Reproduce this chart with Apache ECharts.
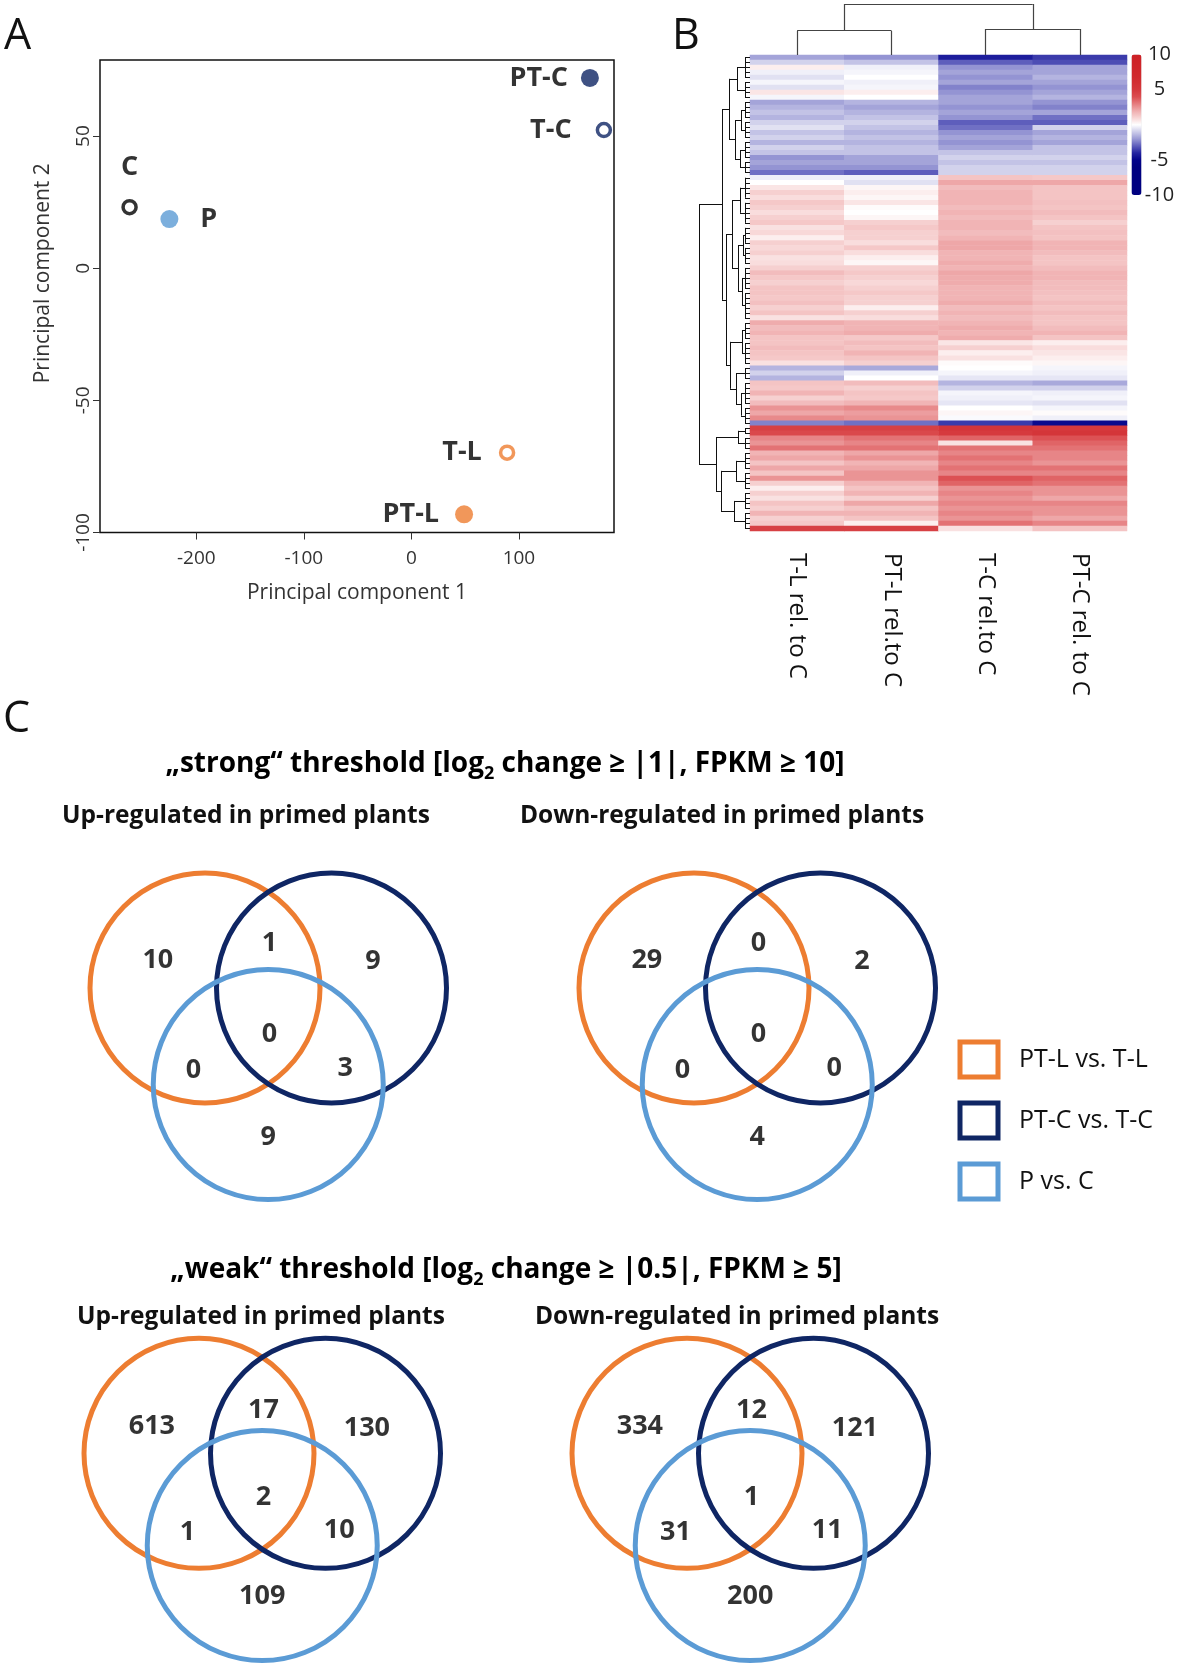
<!DOCTYPE html>
<html><head><meta charset="utf-8">
<script src="https://cdn.jsdelivr.net/npm/echarts@6/dist/echarts.min.js"></script>
<style>html,body{margin:0;padding:0;background:#fff}#c{width:1181px;height:1673px}</style>
</head><body><div id="c"></div>
<script>
// ---------- Panel A : PCA ----------
const pcaSamples = ['PT-C', 'T-C', 'C', 'P', 'T-L', 'PT-L'];
const pc1 = [166, 179, -262, -225, 89, 49];
const pc2 = [72, 52.3, 23.1, 18.6, -69.8, -93.1];
const pc1Ticks = [-200, -100, 0, 100];
const pc2Ticks = [-100, -50, 0, 50];

// ---------- Panel B : heatmap (log2 change rel. to C) ----------
const heatColumns = ['T-L rel. to C', 'PT-L rel.to C', 'T-C rel.to C', 'PT-C rel. to C'];
const tlRelC = [-1.8,-0.9,0.4,-0.3,-0.6,-0.2,-0.6,0.6,-0.2,-1.8,
 -1.5,-1.2,-1.5,-0.9,-0.6,-1.2,-0.9,-1.5,-0.9,-1.2,
 -2.1,-1.8,-2.1,-2.7,-0.3,0,0.6,1.1,0.8,1.3,
 1.1,0.8,1.1,1.3,0.7,0.9,0.4,1.1,0.9,1.1,
 0.7,0.8,1.1,1.6,1.3,1.1,1.4,1.4,1.3,1.5,
 1.1,1.4,0.7,2,1.6,1.8,1.4,1.4,1.6,1.4,
 1.3,0.7,-1.5,-0.9,-1.5,1.4,1.3,1.8,1.1,1.6,
 2.5,2.1,2.7,-2.4,4.6,4.2,2.8,2.5,3.2,1.8,
 2.1,1.4,2.1,1.4,2.5,1.1,0.4,1.1,0.7,1.4,
 1.1,1.8,1.1,1.3,4.6];
const ptlRelC = [-2.1,-1.2,-0.3,-0.2,0,-0.3,-0.2,0.4,0,-1.5,
 -1.8,-1.5,-1.2,-0.9,-1.2,-1.5,-1.2,-1.5,-1.2,-1.2,
 -1.8,-1.8,-2.1,-3,-0.3,-0.6,0.2,0.4,0.2,0.6,
 0.1,0,0.2,1.1,1.3,1.1,1.1,0.8,1.3,0.8,
 0.4,0.2,1.1,1.3,1.1,0.9,1.1,1.3,1.1,1.1,
 0.4,1.1,0.8,1.8,1.8,2,1.3,1.6,1.4,1.8,
 1.4,1.1,-1.7,-0.3,0,1.6,1.1,1.4,1.3,1.8,
 2.7,2.3,2.5,-2.7,4.6,4.2,3.2,2.8,3.2,2.1,
 2.5,1.8,2.1,2.5,2.5,1.8,1.4,1.8,1.1,2.1,
 1.4,1.8,1.4,0.4,4.6];
const tcRelC = [-4.2,-3,-2.1,-1.8,-2.1,-1.8,-2.4,-2.1,-1.8,-1.8,
 -2.1,-1.8,-2.1,-3,-2.7,-2.1,-1.8,-2.1,-1.8,-1.2,
 -0.9,-1.2,-0.9,-0.9,1.4,2.1,1.6,1.8,1.8,1.8,
 1.6,1.8,1.6,1.8,1.8,1.6,1.8,2.1,2.1,1.8,
 1.8,2,1.8,2.1,2,2,1.8,1.8,1.8,2,
 1.6,1.8,1.6,1.8,2,1.8,2,0.6,1.1,0.4,
 0.7,0.1,0,-0.2,-0.5,-1.5,-0.9,-0.2,-0.3,-0.5,
 0,0.2,-0.1,-3.6,5.3,4.9,3.5,0.7,3.2,2.8,
 3.2,2.8,3.2,2.8,3.9,3.5,2.5,2.8,2.5,2.8,
 2.5,2.8,2.5,3.2,0.7];
const ptcRelC = [-3.6,-3.3,-1.8,-1.8,-1.5,-1.8,-2.1,-1.8,-1.5,-2.1,
 -2.4,-1.8,-2.7,-3,-0.9,-1.8,-1.5,-1.8,-1.2,-1.2,
 -0.9,-1.2,-0.9,-0.9,1.3,2.1,1.4,1.4,1.4,1.5,
 1.4,1.6,1.4,1.1,1.4,1.5,1.4,1.8,1.8,1.6,
 1.4,1.4,1.6,1.8,1.8,1.6,1.6,1.5,1.4,1.6,
 1.4,1.6,1.4,1.4,1.6,1.8,1.4,0.4,0.8,0.6,
 0.4,0.2,-0.2,-0.3,-0.5,-1.7,-0.9,-0.3,-0.2,-0.6,
 -0.2,0.1,-0.3,-4.8,4.9,5.3,3.9,3.5,3.2,2.8,
 2.8,2.5,3.2,2.8,3.5,3.2,2.5,2.5,2.1,2.8,
 2.5,2.5,2.1,2.8,1.4];
const colorbarTicks = [10, 5, -5, -10];
// column dendrogram: [height, left, right]; leaves are column indices
const colTree = [51, [24.3, 0, 1], [26, 2, 3]];
// row dendrogram: [height, left, right]; leaves are [firstRow, lastRow]
const rowTree = [51,
  [28,
    [21, [13, [0, 4], [5, 8]], [15, [9, [9, 12], [13, 16]], [10, [17, 20], [21, 23]]]],
    [24, [18, [10, [24, 28], [29, 33]], [12, [7, [34, 37], [38, 41]], [8, [42, 46], [47, 52]]]],
         [20, [8, [53, 56], [57, 61]], [14, [62, 64], [9, [65, 69], [70, 73]]]]]
  ],
  [34, [12, [74, 75], [76, 78]], [29, [14, [79, 82], [83, 86]], [16, [87, 90], [91, 94]]]]
];

// ---------- Panel C : Venn counts ----------
// region order: only A, only B, only C, A&B, A&C, B&C, A&B&C
const vennSets = ['PT-L vs. T-L', 'PT-C vs. T-C', 'P vs. C'];
const strongUp = [10, 9, 9, 1, 0, 3, 0];
const strongDown = [29, 2, 4, 0, 0, 0, 0];
const weakUp = [613, 130, 109, 17, 1, 10, 2];
const weakDown = [334, 121, 200, 12, 31, 11, 1];

// ---------- styling / layout ----------
const FONT = "'Open Sans', sans-serif";
const ORANGE = '#ED7D31', NAVY = '#0F2664', LBLUE = '#5B9BD5';
const pcaStyle = {
  'PT-C': {c: NAVY, ring: false, pos: 'left', d: 13},
  'T-C': {c: NAVY, ring: true, pos: 'left', d: 24},
  'C': {c: '#000', ring: true, pos: 'top', d: 18},
  'P': {c: LBLUE, ring: false, pos: 'right', d: 22},
  'T-L': {c: ORANGE, ring: true, pos: 'left', d: 17},
  'PT-L': {c: ORANGE, ring: false, pos: 'left', d: 16}
};
const vennColors = [ORANGE, NAVY, LBLUE];
const circleLayout = [[0, 0], [1.1, 0], [0.55, 0.84]];
const regionLayout = [[-0.41, -0.245], [1.46, -0.23], [0.55, 1.30], [0.56, -0.39], [-0.1, 0.72], [1.22, 0.70], [0.56, 0.40]];
const vennGrids = [
  {left: 78.5, top: 861.5, counts: strongUp},
  {left: 567.5, top: 861.5, counts: strongDown},
  {left: 72.5, top: 1332.5, counts: weakUp},
  {left: 560.5, top: 1332.5, counts: weakDown}
];
const heatColors = ['#000080','#000080','#000080','#000080','#000080','#03038A','#2424A0','#5E5EBC','#9A9AD5','#CDCDEA',
  '#FFFFFF','#F7D4D4','#EFACAD','#E57B7D','#DB4C4F','#D5383C','#D22F33','#D0292D','#CF262A','#CE2328','#CD2126'];

// dendrogram segments
const rowSegs = [];
const LEAF_H = 5;
function walkRow(n) {
  if (n.length === 2) {
    const [s, e] = n;
    for (let i = s; i <= e; i++) rowSegs.push([[0, i + 0.5], [LEAF_H, i + 0.5]]);
    rowSegs.push([[LEAF_H, s + 0.5], [LEAF_H, e + 0.5]]);
    return {pos: (s + e) / 2 + 0.5, h: LEAF_H};
  }
  const [h, l, r] = n;
  const a = walkRow(l), b = walkRow(r);
  rowSegs.push([[a.h, a.pos], [h, a.pos]]);
  rowSegs.push([[b.h, b.pos], [h, b.pos]]);
  rowSegs.push([[h, a.pos], [h, b.pos]]);
  return {pos: (a.pos + b.pos) / 2, h};
}
walkRow(rowTree);
const colSegs = [];
function walkCol(n) {
  if (typeof n === 'number') return {pos: n + 0.5, h: 0};
  const [h, l, r] = n;
  const a = walkCol(l), b = walkCol(r);
  colSegs.push([[a.pos, a.h], [a.pos, h]]);
  colSegs.push([[b.pos, b.h], [b.pos, h]]);
  colSegs.push([[a.pos, h], [b.pos, h]]);
  return {pos: (a.pos + b.pos) / 2, h};
}
walkCol(colTree);

const heatCols = [tlRelC, ptlRelC, tcRelC, ptcRelC];
const rowIds = tlRelC.map((_, i) => 'g' + i);
const heatData = [];
heatCols.forEach((col, j) => col.forEach((v, i) => heatData.push([j, i, v])));

const grids = [
  {left: 100, top: 60, width: 514, height: 472.5, show: true, borderColor: '#111', borderWidth: 1.5, backgroundColor: 'transparent'},
  {left: 750, top: 55, width: 377, height: 476},
  {left: 690, top: 55, width: 60, height: 476},
  {left: 750, top: 0, width: 377, height: 55},
  {left: 1131.5, top: 54.5, width: 10, height: 140.5}
];
const xAxes = [
  {gridIndex: 0, type: 'value', min: -289.5, max: 188.4, axisLine: {show: false, onZero: false},
   axisTick: {show: true, length: 7, customValues: pc1Ticks, lineStyle: {color: '#333'}},
   axisLabel: {customValues: pc1Ticks, fontSize: 19, color: '#333', margin: 17, fontFamily: FONT},
   splitLine: {show: false}, name: 'Principal component 1', nameLocation: 'middle', nameGap: 50,
   nameTextStyle: {fontSize: 21, color: '#333', fontFamily: FONT}},
  {gridIndex: 1, type: 'category', data: heatColumns, axisLine: {show: false}, axisTick: {show: false},
   axisLabel: {rotate: -90, margin: 22, fontSize: 24, color: '#111', fontFamily: FONT, interval: 0}},
  {gridIndex: 2, type: 'value', min: 0, max: 60, inverse: true, show: false},
  {gridIndex: 3, type: 'value', min: 0, max: 4, show: false},
  {gridIndex: 4, type: 'category', data: [''], show: false}
];
const yAxes = [
  {gridIndex: 0, type: 'value', min: -100, max: 78.8, axisLine: {show: false, onZero: false},
   axisTick: {show: true, length: 7, customValues: pc2Ticks, lineStyle: {color: '#333'}},
   axisLabel: {customValues: pc2Ticks, rotate: 90, fontSize: 19, color: '#333', margin: 7, fontFamily: FONT},
   splitLine: {show: false}, name: 'Principal component 2', nameLocation: 'middle', nameGap: 46,
   nameTextStyle: {fontSize: 21, color: '#333', fontFamily: FONT, padding: [0, 0, 0, 46]}},
  {gridIndex: 1, type: 'category', data: rowIds, inverse: true, show: false},
  {gridIndex: 2, type: 'value', min: 0, max: rowIds.length, inverse: true, show: false},
  {gridIndex: 3, type: 'value', min: 0, max: 55, show: false},
  {gridIndex: 4, type: 'value', min: -10, max: 10, position: 'right', axisLine: {show: false}, axisTick: {show: false},
   splitLine: {show: false},
   axisLabel: {customValues: colorbarTicks, fontSize: 20, color: '#222', margin: 18, align: 'center', fontFamily: FONT}}
];

const series = [
  {type: 'scatter', xAxisIndex: 0, yAxisIndex: 0, silent: true,
   data: pcaSamples.map((n, i) => {
     const s = pcaStyle[n];
     return {name: n, value: [pc1[i], pc2[i]], symbolSize: s.ring ? 13 : 18,
       itemStyle: s.ring ? {color: '#fff', borderColor: s.c, borderWidth: 3.5} : {color: s.c},
       label: {show: true, position: s.pos, distance: s.d}};
   }),
   label: {formatter: '{b}', fontSize: 27, fontWeight: 'bold', color: '#000', fontFamily: FONT}},
  {type: 'heatmap', xAxisIndex: 1, yAxisIndex: 1, data: heatData, silent: true, itemStyle: {borderWidth: 0}},
  {type: 'lines', coordinateSystem: 'cartesian2d', xAxisIndex: 2, yAxisIndex: 2, silent: true,
   data: rowSegs.map(c => ({coords: c})), lineStyle: {color: '#111', width: 1, opacity: 1}},
  {type: 'lines', coordinateSystem: 'cartesian2d', xAxisIndex: 3, yAxisIndex: 3, silent: true,
   data: colSegs.map(c => ({coords: c})), lineStyle: {color: '#444', width: 1.2, opacity: 1}},
  {type: 'scatter', xAxisIndex: 4, yAxisIndex: 4, data: [], silent: true}
];

vennGrids.forEach((g) => {
  const idx = grids.length;
  grids.push({left: g.left, top: g.top, width: 391, height: 356.5});
  xAxes.push({gridIndex: idx, type: 'value', min: -1.1, max: 2.3, show: false});
  yAxes.push({gridIndex: idx, type: 'value', min: -1.1, max: 2.0, inverse: true, show: false});
  vennSets.forEach((name, k) => {
    series.push({
      type: 'custom', name: name, xAxisIndex: idx, yAxisIndex: idx, silent: true,
      itemStyle: {color: vennColors[k]},
      data: [circleLayout[k]],
      renderItem: (params, api) => {
        const c = api.coord([api.value(0), api.value(1)]);
        const r = api.size([1, 1])[0];
        return {type: 'circle', shape: {cx: c[0], cy: c[1], r: r},
          style: {fill: 'none', stroke: vennColors[k], lineWidth: 5}};
      }
    });
  });
  series.push({
    type: 'scatter', xAxisIndex: idx, yAxisIndex: idx, silent: true, symbolSize: 1,
    itemStyle: {color: 'transparent'},
    data: g.counts.map((v, r) => [regionLayout[r][0], regionLayout[r][1], v]),
    label: {show: true, position: 'inside', formatter: p => String(p.value[2]),
      fontSize: 27, fontWeight: 'bold', color: '#000', fontFamily: FONT}
  });
});

function txt(x, y, text, size, weight, align) {
  return {type: 'text', x: x, y: y, silent: true,
    style: {text: text, fontSize: size, fontWeight: weight || 'normal', fontFamily: FONT, fill: '#111',
      align: align || 'left', verticalAlign: 'middle'}};
}
const subRich = {
  t: {fontSize: 28, fontWeight: 'bold', fontFamily: FONT, color: '#111', lineHeight: 38},
  s: {fontSize: 18, fontWeight: 'bold', fontFamily: FONT, color: '#111', lineHeight: 20, verticalAlign: 'bottom'}
};
function richTitle(x, y, a, b) {
  return {type: 'text', x: x, y: y, silent: true,
    style: {text: '{t|' + a + '}{s|2}{t|' + b + '}', rich: subRich, align: 'center', verticalAlign: 'middle'}};
}

const option = {
  animation: false,
  backgroundColor: '#fff',
  grid: grids, xAxis: xAxes, yAxis: yAxes, series: series,
  visualMap: {type: 'continuous', seriesIndex: 1, min: -10, max: 10, calculable: false,
    left: 1131.5, top: 54.5, itemWidth: 10, itemHeight: 140.5, padding: 0, text: null, showLabel: false,
    inRange: {color: heatColors}},
  legend: {orient: 'vertical', left: 957.5, top: 1039.5, padding: 0, itemWidth: 38, itemHeight: 35, itemGap: 21,
    selectedMode: false,
    textStyle: {fontSize: 25, color: '#111', fontFamily: FONT, padding: [0, 0, 0, 16]},
    data: vennSets.map((n, k) => ({name: n, icon: 'rect',
      itemStyle: {color: '#fff', borderColor: vennColors[k], borderWidth: 5}}))},
  graphic: [
    txt(4, 37, 'A', 43, 'normal', 'left'),
    txt(672, 37, 'B', 43, 'normal', 'left'),
    txt(3, 720, 'C', 43, 'normal', 'left'),
    richTitle(505, 764, '\u201Estrong\u201C threshold [log', ' change \u2265 |1|, FPKM \u2265 10]'),
    richTitle(506, 1270, '\u201Eweak\u201C threshold [log', ' change \u2265 |0.5|, FPKM \u2265 5]'),
    txt(246, 816, 'Up-regulated in primed plants', 24.5, 'bold', 'center'),
    txt(722, 816, 'Down-regulated in primed plants', 24.5, 'bold', 'center'),
    txt(261, 1317, 'Up-regulated in primed plants', 24.5, 'bold', 'center'),
    txt(737, 1317, 'Down-regulated in primed plants', 24.5, 'bold', 'center')
  ]
};
const chart = echarts.init(document.getElementById('c'), null, {renderer: 'canvas', width: 1181, height: 1673});
chart.setOption(option);
</script></body></html>
